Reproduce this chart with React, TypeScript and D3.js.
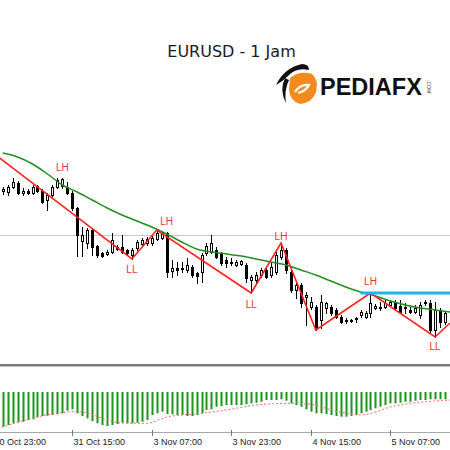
import React from 'react';
import * as d3 from 'd3';

// ---- Data (EURUSD H1) ----
const opens = [
  1.1644, 1.1643, 1.1648, 1.1652, 1.1642, 1.1644, 1.1642, 1.1649, 1.1644, 1.1635,
  1.1640, 1.1648, 1.1649, 1.1648, 1.1642, 1.1627, 1.1594, 1.1592, 1.1605, 1.1589,
  1.1582, 1.1581, 1.1583, 1.1588, 1.1588, 1.1585, 1.1580, 1.1587, 1.1591, 1.1592,
  1.1592, 1.1596, 1.1597, 1.1602, 1.1564, 1.1567, 1.1566, 1.1565, 1.1568, 1.1562,
  1.1563, 1.1582, 1.1583, 1.1585, 1.1582, 1.1575, 1.1572, 1.1570, 1.1571, 1.1570,
  1.1555, 1.1555, 1.1560, 1.1565, 1.1560, 1.1563, 1.1578, 1.1585, 1.1563, 1.1545,
  1.1550, 1.1538, 1.1528, 1.1528, 1.1515, 1.1527, 1.1528, 1.1525, 1.1518, 1.1514,
  1.1515, 1.1516, 1.1520, 1.1518, 1.1522, 1.1527, 1.1528, 1.1528, 1.1530, 1.1533,
  1.1529, 1.1528, 1.1525, 1.1523, 1.1520, 1.1532, 1.1532, 1.1505, 1.1525, 1.1513,
];
const highs = [
  1.1648, 1.1650, 1.1657, 1.1654, 1.1647, 1.1646, 1.1650, 1.1650, 1.1646, 1.1642,
  1.1650, 1.1657, 1.1657, 1.1653, 1.1644, 1.1628, 1.1608, 1.1607, 1.1607, 1.1590,
  1.1583, 1.1585, 1.1602, 1.1590, 1.1600, 1.1586, 1.1587, 1.1595, 1.1597, 1.1598,
  1.1599, 1.1605, 1.1603, 1.1603, 1.1575, 1.1573, 1.1573, 1.1577, 1.1570, 1.1563,
  1.1582, 1.1592, 1.1600, 1.1588, 1.1583, 1.1578, 1.1577, 1.1575, 1.1575, 1.1572,
  1.1560, 1.1563, 1.1567, 1.1567, 1.1573, 1.1583, 1.1592, 1.1587, 1.1565, 1.1552,
  1.1552, 1.1543, 1.1538, 1.1530, 1.1540, 1.1533, 1.1530, 1.1527, 1.1520, 1.1517,
  1.1516, 1.1518, 1.1525, 1.1524, 1.1542, 1.1531, 1.1533, 1.1535, 1.1535, 1.1535,
  1.1535, 1.1532, 1.1528, 1.1530, 1.1533, 1.1535, 1.1535, 1.1533, 1.1527, 1.1524,
];
const lows = [
  1.1641, 1.1640, 1.1647, 1.1641, 1.1640, 1.1641, 1.1641, 1.1643, 1.1632, 1.1625,
  1.1638, 1.1647, 1.1647, 1.1641, 1.1625, 1.1579, 1.1579, 1.1587, 1.1580, 1.1578,
  1.1578, 1.1580, 1.1582, 1.1585, 1.1582, 1.1581, 1.1576, 1.1585, 1.1590, 1.1590,
  1.1590, 1.1595, 1.1596, 1.1558, 1.1558, 1.1560, 1.1563, 1.1563, 1.1558, 1.1552,
  1.1553, 1.1580, 1.1582, 1.1577, 1.1570, 1.1568, 1.1570, 1.1569, 1.1570, 1.1553,
  1.1542, 1.1553, 1.1558, 1.1557, 1.1558, 1.1561, 1.1576, 1.1562, 1.1543, 1.1537,
  1.1528, 1.1510, 1.1526, 1.1505, 1.1507, 1.1522, 1.1520, 1.1517, 1.1512, 1.1512,
  1.1513, 1.1513, 1.1518, 1.1517, 1.1518, 1.1526, 1.1525, 1.1527, 1.1529, 1.1525,
  1.1522, 1.1522, 1.1522, 1.1522, 1.1517, 1.1530, 1.1502, 1.1498, 1.1508, 1.1511,
];
const closes = [
  1.1646, 1.1648, 1.1653, 1.1642, 1.1644, 1.1642, 1.1648, 1.1644, 1.1633, 1.1640,
  1.1648, 1.1655, 1.1656, 1.1642, 1.1627, 1.1600, 1.1600, 1.1605, 1.1588, 1.1580,
  1.1579, 1.1583, 1.1595, 1.1586, 1.1583, 1.1582, 1.1585, 1.1593, 1.1595, 1.1596,
  1.1597, 1.1602, 1.1602, 1.1563, 1.1567, 1.1565, 1.1567, 1.1570, 1.1560, 1.1559,
  1.1580, 1.1589, 1.1592, 1.1578, 1.1572, 1.1572, 1.1573, 1.1573, 1.1574, 1.1557,
  1.1558, 1.1560, 1.1565, 1.1558, 1.1568, 1.1580, 1.1585, 1.1565, 1.1545, 1.1550,
  1.1532, 1.1540, 1.1533, 1.1507, 1.1533, 1.1532, 1.1522, 1.1518, 1.1513, 1.1515,
  1.1514, 1.1517, 1.1523, 1.1522, 1.1532, 1.1529, 1.1527, 1.1532, 1.1533, 1.1527,
  1.1523, 1.1527, 1.1523, 1.1527, 1.1530, 1.1533, 1.1505, 1.1525, 1.1513, 1.1522,
];

// moving average (read at sampled bars)
const maBars = [0, 3, 6, 9, 12, 15, 18, 21, 24, 27, 30, 33, 36, 39, 42, 45, 48, 51, 54, 57, 60, 63, 66, 69, 72, 75, 78, 81, 84, 87, 90];
const maValues = [
  1.1682, 1.1678, 1.1671, 1.1661, 1.1650, 1.1643, 1.1635, 1.1627, 1.1620, 1.1614,
  1.1608, 1.1601, 1.1593, 1.1586, 1.1583, 1.1581, 1.1579, 1.1576, 1.1573, 1.1570,
  1.1565, 1.1560, 1.1554, 1.1548, 1.1543, 1.1539, 1.1534, 1.1530, 1.1527, 1.1525, 1.1523,
];

// zigzag vertices
const zzBars = [-4, 26, 31, 50, 56, 63, 74, 87, 90];
const zzValues = [1.1690, 1.1576, 1.1605, 1.1542, 1.1592, 1.1505, 1.1542, 1.1498, 1.1512];

// swing labels
const swingBars = [12, 26, 33, 50, 56, 74, 87];
const swingTexts = ['LH', 'LL', 'LH', 'LL', 'LH', 'LH', 'LL'];
const swingPrices = [1.1668, 1.1566, 1.1614, 1.1531, 1.1599, 1.1554, 1.1489];

// levels
const levelPrice = 1.1600;
const resistancePrice = 1.1542;
const resistanceFrom = 72;
const resistanceTo = 91;

// oscillator histogram and signal
const oscValues = [
  -34.7, -33, -31.3, -30.3, -29.7, -28, -27.3, -25.3, -24, -23.7,
  -23, -22.3, -21.3, -18.7, -17.3, -21.3, -24, -26.3, -29, -31.3,
  -33, -34, -33, -32, -30.7, -31.3, -31.3, -30.7, -29.7, -28,
  -23, -21.3, -19.7, -22, -22.3, -23, -23, -24, -24, -23,
  -21.3, -18, -17.3, -14.7, -14, -13, -13, -13, -13, -12.3,
  -11.3, -10.7, -9.7, -8, -8, -8, -7.3, -8.7, -11.3, -13,
  -14.7, -17.3, -19.7, -21.3, -21.3, -22, -23, -24, -24.7, -24.7,
  -24, -23, -21.3, -19.7, -18, -16.3, -14.7, -13, -11.3, -11.3,
  -10.7, -9.7, -9.7, -8.7, -8, -8, -7.3, -7.3, -7.3, -7.3,
];
const sigBars = [-1, 15, 24, 29, 33, 40, 45, 51, 58, 62, 65, 69, 72, 74, 78, 82, 85, 91];
const sigValues = [-36.5, -19.7, -31, -31.3, -25, -21.3, -18, -13, -11.3, -12.3, -16.3, -21.3, -23, -21.5, -15, -11.3, -9.7, -7.8];

// time axis
const tickBars = [-2, 14, 30, 46, 62, 78];
const tickLabels = ['30 Oct 23:00', '31 Oct 15:00', '3 Nov 07:00', '3 Nov 23:00', '4 Nov 15:00', '5 Nov 07:00'];

const W = 450;
const H = 450;
const MAIN_BOTTOM = 364;
const OSC_TOP = 366.5;
const OSC_BOTTOM = 432;

export default function App() {
  const x = d3.scaleLinear().domain([0, 90]).range([2.7, 450]);
  const y = d3.scaleLinear().domain([1.1471, 1.1835]).range([MAIN_BOTTOM, 0]);
  const oy = d3.scaleLinear().domain([-40, 26]).range([OSC_BOTTOM, 366]);

  const px = (i: number) => Math.round(x(i));

  const maLine = d3
    .line<number>()
    .x((_, k) => x(maBars[k]))
    .y((d) => y(d))
    .curve(d3.curveMonotoneX)(maValues);

  const zzLine = d3
    .line<number>()
    .x((_, k) => x(zzBars[k]))
    .y((d) => y(d))(zzValues);

  const sigLine = d3
    .line<number>()
    .x((_, k) => x(sigBars[k]))
    .y((d) => oy(d))
    .curve(d3.curveMonotoneX)(sigValues);

  const candles = opens.map((o, i) => {
    const c = closes[i];
    const cx = px(i);
    const top = Math.round(y(Math.max(o, c)));
    const bot = Math.round(y(Math.min(o, c)));
    const bull = c > o;
    const h = Math.max(bot - top, 1);
    return (
      <g key={i}>
        <line
          x1={cx + 0.5}
          x2={cx + 0.5}
          y1={Math.round(y(highs[i]))}
          y2={Math.round(y(lows[i])) + 1}
          stroke="#000"
          strokeWidth={1}
        />
        <rect
          x={cx - 0.5}
          y={top + 0.5}
          width={2}
          height={h}
          fill={bull ? '#fff' : '#000'}
          stroke="#000"
          strokeWidth={1}
        />
      </g>
    );
  });

  const zeroY = oy(0);

  return (
    <div style={{ position: 'absolute', left: 0, top: 0, width: W, height: H, background: '#fff' }}>
      <svg width={W} height={H} style={{ display: 'block' }}>
        <defs>
          <clipPath id="mainClip">
            <rect x={0} y={0} width={W} height={MAIN_BOTTOM} />
          </clipPath>
          <clipPath id="oscClip">
            <rect x={0} y={OSC_TOP} width={W} height={OSC_BOTTOM - OSC_TOP} />
          </clipPath>
        </defs>
        <rect x={0} y={0} width={W} height={H} fill="#fff" />

        {/* Main panel */}
        <g clipPath="url(#mainClip)">
          <line x1={0} x2={W} y1={Math.round(y(levelPrice)) + 0.5} y2={Math.round(y(levelPrice)) + 0.5} stroke="#c8c8c8" strokeWidth={1} />
          {candles}
          <path d={maLine || ''} fill="none" stroke="#1f8f1f" strokeWidth={1.5} />
          <path d={zzLine || ''} fill="none" stroke="#ff2222" strokeWidth={1.6} />
          <line
            x1={x(resistanceFrom)}
            x2={x(resistanceTo)}
            y1={y(resistancePrice)}
            y2={y(resistancePrice)}
            stroke="#1eb4f0"
            strokeWidth={3}
          />
          {swingBars.map((b, k) => (
            <text
              key={k}
              x={x(b)}
              y={y(swingPrices[k])}
              textAnchor="middle"
              dominantBaseline="central"
              fontFamily="'Liberation Sans', Arial, sans-serif"
              fontSize={10}
              fill="#ee3333"
            >
              {swingTexts[k]}
            </text>
          ))}
        </g>

        {/* Title */}
        <text
          x={231.5}
          y={57}
          textAnchor="middle"
          fontFamily="'DejaVu Sans', sans-serif"
          fontSize={16}
          fill="#1a1a1a"
        >
          EURUSD - 1 Jam
        </text>

        {/* Logo */}
        <g>
          <path d="M 290 78 Q 300 70 312 74 Q 319 80 316 92 Q 312 103 300 104 Q 290 101 289 90 Z" fill="#f28a1c" />
          <path d="M 295 92 Q 300 84 309 85 Q 306 91 298 93" fill="none" stroke="#fff" strokeWidth={2.2} />
          <path d="M 276 85 Q 284 68 302 64 Q 309 64 309 70 Q 296 67 288 76 Q 282 82 276 85 Z" fill="#111" />
          <path d="M 285 78 Q 279 90 286 103 Q 284 90 289 80 Z" fill="#111" />
          <text
            x={320}
            y={95}
            fontFamily="'Liberation Sans', Arial, sans-serif"
            fontWeight="bold"
            fontSize={23.5}
            fill="#111"
          >
            PEDIAFX
          </text>
          <text
            x={427}
            y={80}
            transform="rotate(90 427 80)"
            fontFamily="'Liberation Sans', Arial, sans-serif"
            fontSize={5}
            fill="#333"
          >
            .COM
          </text>
        </g>

        {/* Panel separator */}
        <rect x={0} y={MAIN_BOTTOM} width={W} height={OSC_TOP - MAIN_BOTTOM} fill="#7a7a7a" />

        {/* Oscillator */}
        <g clipPath="url(#oscClip)">
          {oscValues.map((v, i) => (
            <rect
              key={i}
              x={px(i) - 0.5}
              y={Math.min(zeroY, oy(v))}
              width={2}
              height={Math.abs(oy(v) - zeroY)}
              fill="#1a961a"
            />
          ))}
          <path d={sigLine || ''} fill="none" stroke="#ff6b6b" strokeWidth={1} strokeDasharray="2,2" />
        </g>

        {/* Time axis */}
        <line x1={0} x2={W} y1={OSC_BOTTOM + 0.5} y2={OSC_BOTTOM + 0.5} stroke="#a8a8a8" strokeWidth={1} />
        {tickBars.map((b, k) => (
          <g key={k}>
            <line x1={px(b) + 0.5} x2={px(b) + 0.5} y1={OSC_BOTTOM - 2} y2={OSC_BOTTOM + 4} stroke="#777" strokeWidth={1} />
            <text
              x={px(b) + 1.5}
              y={444.5}
              fontFamily="'Liberation Sans', Arial, sans-serif"
              fontSize={9}
              fill="#222"
            >
              {tickLabels[k]}
            </text>
          </g>
        ))}
      </svg>
    </div>
  );
}
